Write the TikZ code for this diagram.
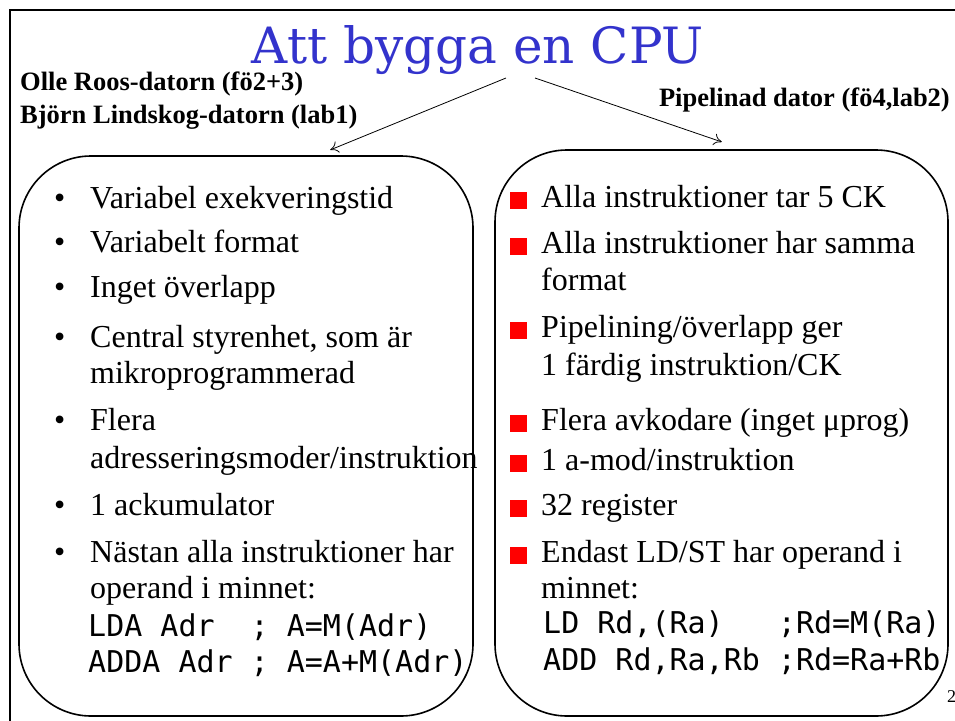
\documentclass[tikz,border=0pt]{standalone}
\usepackage{fontspec}
\setmainfont{Liberation Serif}
\setmonofont{DejaVu Sans Mono}
\newfontfamily\headfont{DejaVu Serif}
\definecolor{headblue}{RGB}{51,51,204}
\definecolor{sqred}{RGB}{255,0,0}
\tikzset{
  frameline/.style={line width=2.6pt},
  panel/.style={draw, line width=1.6pt, rounded corners=72pt},
  body/.style={font=\fontsize{32}{36}\selectfont, anchor=base west, inner sep=0pt},
  code/.style={font=\ttfamily\fontsize{30}{36}\selectfont, anchor=base west, inner sep=0pt},
  lbl/.style={font=\bfseries\fontsize{26.5}{33}\selectfont, inner sep=0pt},
  dotbullet/.style={font=\fontsize{32}{36}\selectfont, anchor=base west, inner sep=0pt},
  sqbullet/.style={fill=sqred, minimum size=17pt, inner sep=0pt, draw=none},
  link/.style={line width=0.8pt, -{To[length=8pt,width=12pt]}}
}
\usetikzlibrary{arrows.meta}
\begin{document}
\begin{tikzpicture}[x=1pt,y=-1pt]
\useasboundingbox (0,0) rectangle (955,720);

% slide frame (runs off the page at right and bottom)
\draw[frameline] (10,740) -- (10,10) -- (975,10);

% title
\node[font=\headfont\fontsize{50}{56}\selectfont, text=headblue, anchor=base, inner sep=0pt] (title) at (478,63) {Att bygga en CPU};
\coordinate (tl) at (506,78);
\coordinate (tr) at (535,78);

% headings of the two columns
\node[lbl, anchor=base west] (olle) at (20,90) {Olle Roos-datorn (fö2+3)};
\node[lbl, anchor=base west] (bjorn) at (20,123) {Björn Lindskog-datorn (lab1)};
\node[lbl, anchor=base east] (pipe) at (950,106) {Pipelinad dator (fö4,lab2)};

% the two panels
\draw[panel] (19,156) rectangle (473,716);
\node[inner sep=0pt, minimum size=0pt] (leftbox) at (330,150) {};
\draw[panel] (495,150) rectangle (948,716);
\node[inner sep=0pt, minimum size=0pt] (rightbox) at (722,142) {};

% arrows from the title to the panels
\draw[link] (tl) -- (leftbox);
\draw[link] (tr) -- (rightbox);

% left panel: microprogrammed computer
\node[dotbullet] (b1) at (54,208) {•};
\node[body] (l1) at (90,208) {Variabel exekveringstid};
\node[dotbullet] (b2) at (54,252) {•};
\node[body] (l2) at (90,252) {Variabelt format};
\node[dotbullet] (b3) at (54,297) {•};
\node[body] (l3) at (90,297) {Inget överlapp};
\node[dotbullet] (b4) at (54,347) {•};
\node[body] (l4a) at (90,347) {Central styrenhet, som är};
\node[body] (l4b) at (90,383) {mikroprogrammerad};
\node[dotbullet] (b5) at (54,430) {•};
\node[body] (l5a) at (90,430) {Flera};
\node[body] (l5b) at (90,468) {adresseringsmoder/instruktion};
\node[dotbullet] (b6) at (54,515) {•};
\node[body] (l6) at (90,515) {1 ackumulator};
\node[dotbullet] (b7) at (54,562) {•};
\node[body] (l7a) at (90,562) {Nästan alla instruktioner har};
\node[body] (l7b) at (90,598) {operand i minnet:};
\node[code] (c1) at (88,636) {LDA Adr\ \ ; A=M(Adr)};
\node[code] (c2) at (88,672) {ADDA Adr ; A=A+M(Adr)};

% right panel: pipelined computer
\node[sqbullet] (s1) at (518.5,200.5) {};
\node[body] (r1) at (541,207) {Alla instruktioner tar 5 CK};
\node[sqbullet] (s2) at (518.5,246.5) {};
\node[body] (r2a) at (541,253) {Alla instruktioner har samma};
\node[body] (r2b) at (541,290) {format};
\node[sqbullet] (s3) at (518.5,330.5) {};
\node[body] (r3a) at (541,337) {Pipelining/överlapp ger};
\node[body] (r3b) at (541,375) {1 färdig instruktion/CK};
\node[sqbullet] (s4) at (518.5,423.5) {};
\node[body] (r4) at (541,430) {Flera avkodare (inget μprog)};
\node[sqbullet] (s5) at (518.5,463.5) {};
\node[body] (r5) at (541,470) {1 a-mod/instruktion};
\node[sqbullet] (s6) at (518.5,508.5) {};
\node[body] (r6) at (541,515) {32 register};
\node[sqbullet] (s7) at (518.5,555.5) {};
\node[body] (r7a) at (541,562) {Endast LD/ST har operand i};
\node[body] (r7b) at (541,598) {minnet:};
\node[code] (c3) at (543,633) {LD Rd,(Ra)\ \ \ ;Rd=M(Ra)};
\node[code] (c4) at (543,670) {ADD Rd,Ra,Rb ;Rd=Ra+Rb};

% page number
\node[font=\fontsize{18}{20}\selectfont, anchor=base west, inner sep=0pt] (pg) at (947,702) {2};
\end{tikzpicture}
\end{document}
